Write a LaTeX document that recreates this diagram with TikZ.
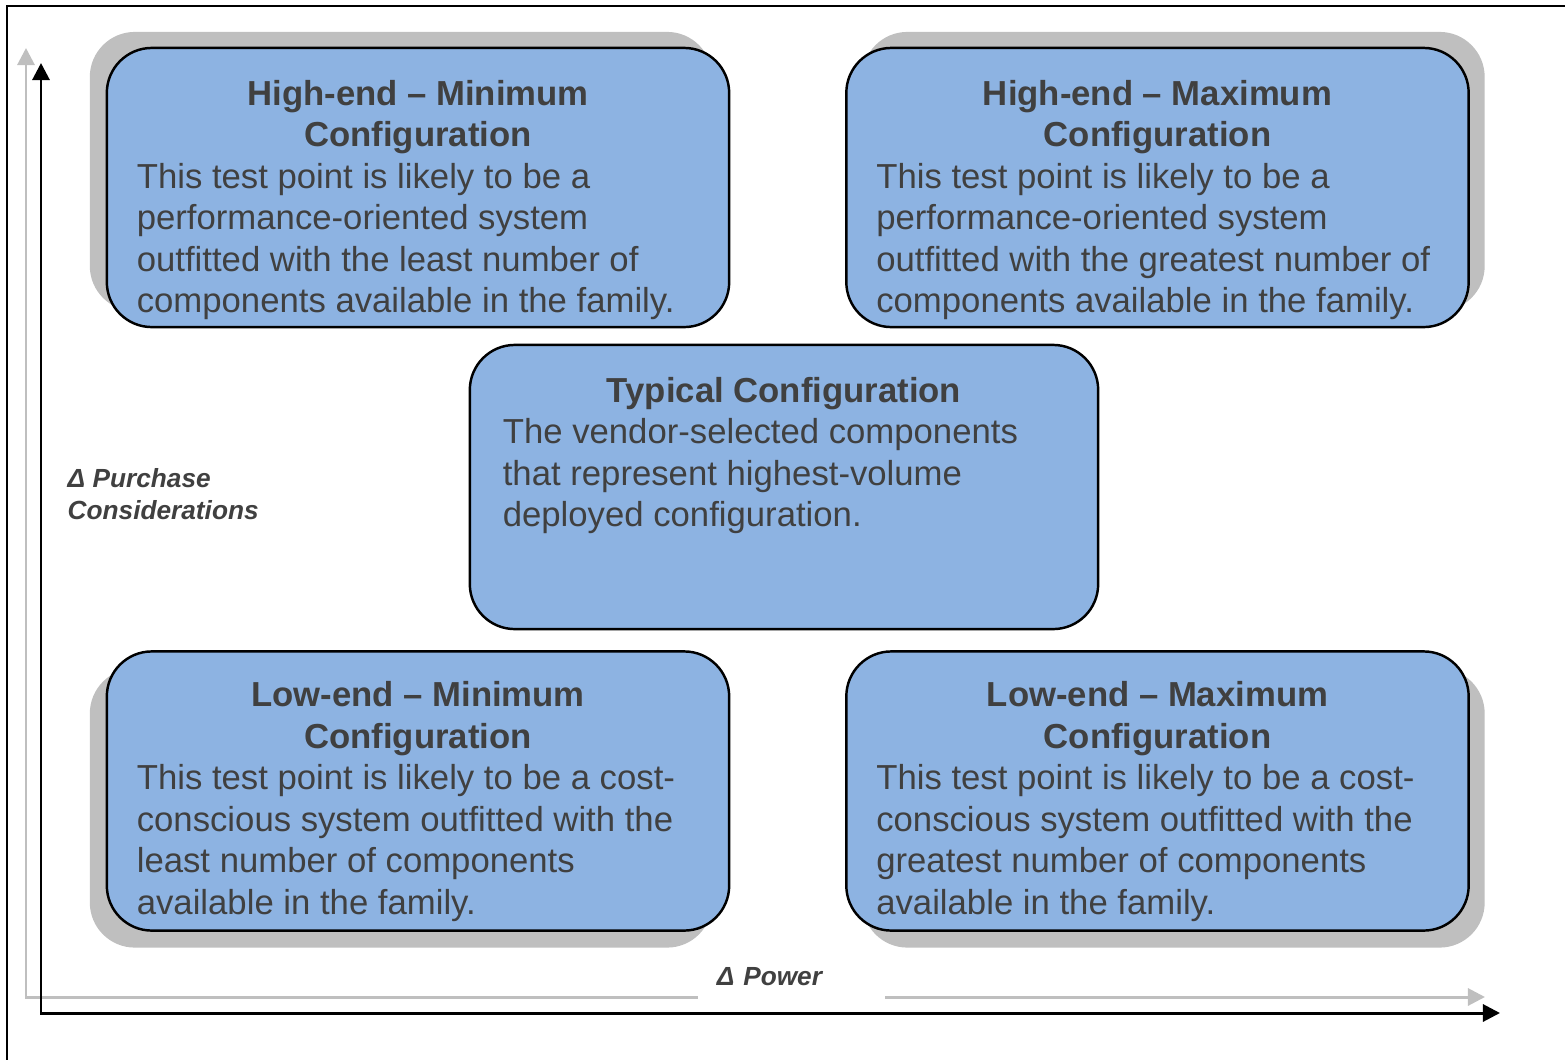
\documentclass[tikz,border=0pt]{standalone}
\usepackage{fontspec}
\setmainfont{Liberation Sans}
\usepackage{xcolor}
\usepackage{tikz}
\usetikzlibrary{arrows.meta,shadows,calc}
\definecolor{cfgblue}{RGB}{141,179,226}
\definecolor{shadowgray}{RGB}{191,191,191}
\definecolor{textgray}{RGB}{64,64,64}
% title (centred, bold) over the body text, kept at the top of the box
\newcommand{\cfgtext}[3][2.15cm]{%
  \parbox[c][#1][t]{5.62cm}{\fontsize{9.87}{11.8}\selectfont
    {\centering\bfseries #2\par}\raggedright #3}}
\tikzset{
  cfgbox/.style={draw=black, line width=0.7pt, fill=cfgblue, rounded corners=0.45cm,
    minimum width=6.22cm, minimum height=2.79cm, inner sep=0pt, text=textgray},
  cfgshadow/.style 2 args={general shadow={fill=shadowgray, shadow xshift=#1, shadow yshift=#2}},
  axislabel/.style={text=textgray, font=\fontsize{7.46}{8.95}\selectfont\bfseries\itshape,
    inner sep=0pt, align=left},
  axisline/.style={line width=0.85pt, <->},
}

\begin{document}
\begin{tikzpicture}[x=0.01cm, y=-0.01cm, >={Triangle[length=0.17cm, width=0.17cm]}]
    \useasboundingbox (0,0) rectangle (1565,1060);

    % Frame
    \draw[line width=0.6pt] (1565,6) -| (7,1060);

    % Axes (grey copy behind, black in front)
    \coordinate (gytip) at (26,48);
    \coordinate (gxtip) at (1485,997);
    \coordinate (ytip) at (41,63);
    \coordinate (xtip) at (1500,1013);
    \draw[axisline, shadowgray] (gytip) |- (gxtip);
    \draw[axisline, black] (ytip) |- (xtip);

    % Axis labels
    \node[axislabel, fill=white, anchor=center, minimum width=1.87cm, minimum height=0.5cm,
          text width=1.49cm, inner xsep=0.19cm] (power) at (791.5,977) {Δ Power};
    \node[axislabel, anchor=north west] (purchase) at (67,468) {Δ Purchase\\Considerations};

    % High-end boxes
    \node[cfgbox, cfgshadow={-0.17cm}{0.16cm}] (hemin) at (418,187.5) {\cfgtext{High-end – Minimum\\Configuration}{%
        This test point is likely to be a\\
        performance-oriented system\\
        outfitted with the least number of\\
        components available in the family.}};
    \node[cfgbox, cfgshadow={0.16cm}{0.16cm}] (hemax) at (1157.5,187.5) {\cfgtext{High-end – Maximum\\Configuration}{%
        This test point is likely to be a\\
        performance-oriented system\\
        outfitted with the greatest number of\\
        components available in the family.}};

    % Typical box
    \node[cfgbox, minimum width=6.28cm, minimum height=2.84cm] (typ) at (784,487) {\cfgtext[2.2cm]{Typical Configuration}{%
        The vendor-selected components\\
        that represent highest-volume\\
        deployed configuration.}};

    % Low-end boxes
    \node[cfgbox, cfgshadow={-0.17cm}{-0.17cm}] (lemin) at (418,791) {\cfgtext[2.19cm]{Low-end – Minimum\\Configuration}{%
        This test point is likely to be a cost-\\
        conscious system outfitted with the\\
        least number of components\\
        available in the family.}};
    \node[cfgbox, cfgshadow={0.16cm}{-0.17cm}] (lemax) at (1157.5,791) {\cfgtext[2.19cm]{Low-end – Maximum\\Configuration}{%
        This test point is likely to be a cost-\\
        conscious system outfitted with the\\
        greatest number of components\\
        available in the family.}};

\end{tikzpicture}
\end{document}
